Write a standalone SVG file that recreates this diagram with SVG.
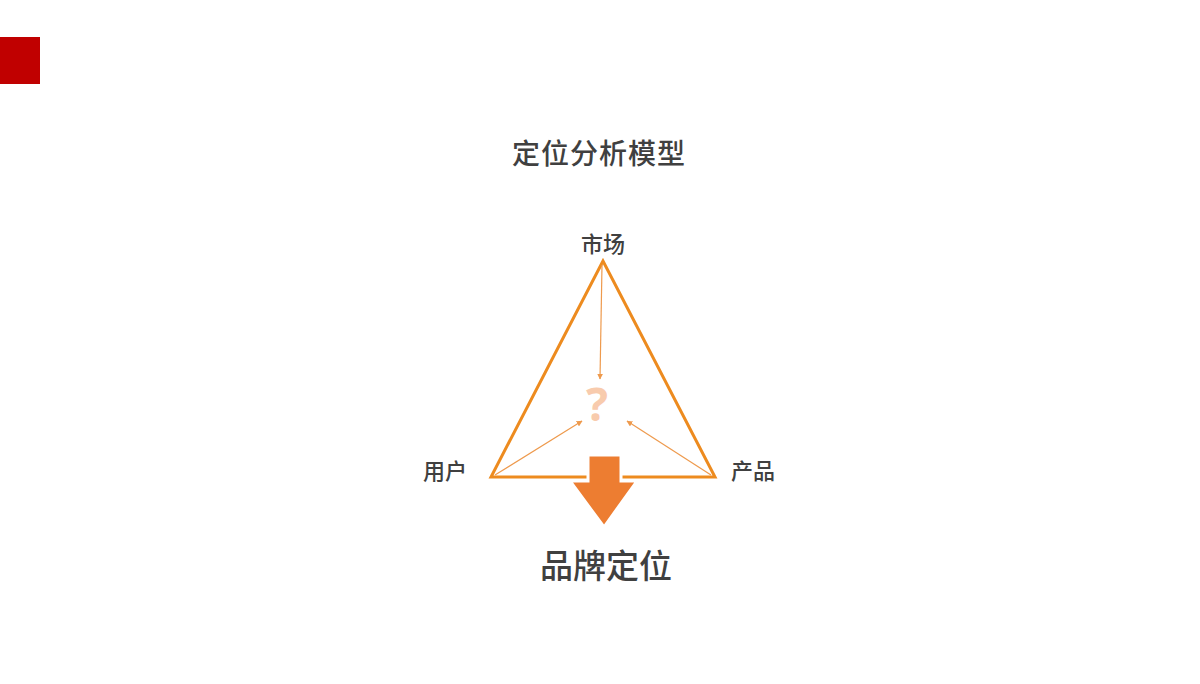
<svg xmlns="http://www.w3.org/2000/svg" width="1200" height="684" viewBox="0 0 1200 684">
<defs>
<style>
.lbl{font-family:"Noto Sans CJK SC","Noto Sans",sans-serif;font-weight:500;fill:#404040;text-anchor:middle}
.thin{stroke:#EE9A4D;stroke-width:1.2;fill:none}
</style>
<marker id="ah" viewBox="0 0 10 10" refX="9" refY="5" markerWidth="6" markerHeight="6" orient="auto" markerUnits="userSpaceOnUse">
<path d="M0,0 L10,5 L0,10 z" fill="#EE9A4D"/>
</marker>
</defs>
<rect width="1200" height="684" fill="#FFFFFF"/>
<rect id="corner" x="0" y="37" width="40" height="47" fill="#C00000"/>
<g id="title"><text class="lbl" x="599" y="164" font-size="28" letter-spacing="1">定位分析模型</text></g>
<g id="triangle"><polygon points="603,261 491,477 715,477" fill="none" stroke="#ED8B1F" stroke-width="3" stroke-linejoin="miter"/></g>
<g id="connectors">
<line class="thin" x1="602" y1="265" x2="600" y2="379" marker-end="url(#ah)"/>
<line class="thin" x1="495" y1="475" x2="582" y2="421" marker-end="url(#ah)"/>
<line class="thin" x1="711" y1="475" x2="627" y2="421" marker-end="url(#ah)"/>
</g>
<g id="question"><text x="597" y="421" font-family="'Noto Sans','Liberation Sans',sans-serif" font-weight="bold" font-size="46" fill="#F8CBAD" text-anchor="middle">?</text></g>
<g id="arrow"><polygon points="588,455 621,455 621,481 637,481 604,527 570,481 588,481" fill="#ED7D31" stroke="#FFFFFF" stroke-width="3" stroke-linejoin="miter"/></g>
<g id="n-market"><text class="lbl" x="603" y="252" font-size="22">市场</text></g>
<g id="n-user"><text class="lbl" x="445" y="479" font-size="22">用户</text></g>
<g id="n-product"><text class="lbl" x="753" y="479" font-size="22">产品</text></g>
<g id="result"><text class="lbl" x="606" y="578" font-size="33">品牌定位</text></g>
</svg>
